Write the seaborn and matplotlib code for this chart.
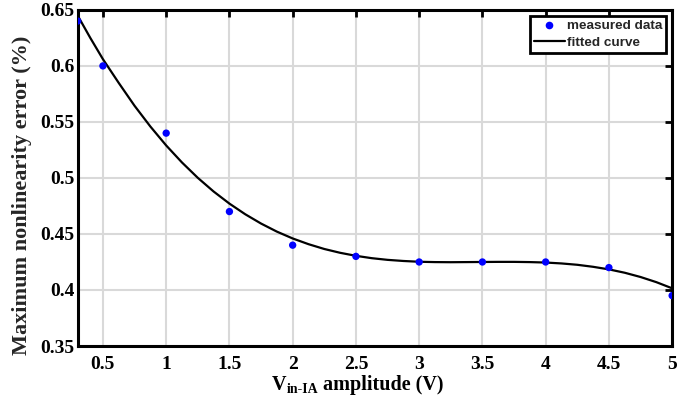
import numpy as np
import pandas as pd
import matplotlib
matplotlib.use("Agg")
import matplotlib.pyplot as plt
import seaborn as sns
from matplotlib.lines import Line2D

# measured data
meas_x = [0.3, 0.5, 1.0, 1.5, 2.0, 2.5, 3.0, 3.5, 4.0, 4.5, 5.0]
meas_y = [0.640, 0.600, 0.540, 0.470, 0.440, 0.430, 0.425, 0.425, 0.425, 0.420, 0.395]

# fitted curve
fit_x = [0.3, 0.4, 0.5, 0.625, 0.75, 0.875, 1.0, 1.125, 1.25, 1.375, 1.5, 1.625,
         1.75, 1.875, 2.0, 2.125, 2.25, 2.375, 2.5, 2.625, 2.75, 2.875,
         3.0, 3.125, 3.25, 3.375, 3.5, 3.625, 3.75, 3.875, 4.0, 4.125,
         4.25, 4.375, 4.5, 4.625, 4.75, 4.875, 5.0]
fit_y = [0.645, 0.625, 0.606, 0.5848, 0.5644, 0.5459, 0.529, 0.5138, 0.5001, 0.4879, 0.4771, 0.4676,
         0.4593, 0.4521, 0.446, 0.4409, 0.4366, 0.4332, 0.4305, 0.4284, 0.4269, 0.4259,
         0.4252, 0.4249, 0.4248, 0.4249, 0.425, 0.4251, 0.4251, 0.4249, 0.4245, 0.4237,
         0.4225, 0.4207, 0.4184, 0.4154, 0.4116, 0.407, 0.4015]

x_ticks = [0.5, 1, 1.5, 2, 2.5, 3, 3.5, 4, 4.5, 5]
x_ticklabels = ["0.5", "1", "1.5", "2", "2.5", "3", "3.5", "4", "4.5", "5"]
y_ticks = [0.35, 0.4, 0.45, 0.5, 0.55, 0.6, 0.65]
y_ticklabels = ["0.35", "0.4", "0.45", "0.5", "0.55", "0.6", "0.65"]
xlabel_parts = ["V", "in-IA", " amplitude (V)"]
ylabel_text = "Maximum nonlinearity error (%)"

sns.set_theme(style="white")
plt.rcParams["font.family"] = ["Liberation Serif", "DejaVu Serif"]
plt.rcParams["font.weight"] = "bold"

W, H = 681, 395
fig = plt.figure(figsize=(W / 100, H / 100), dpi=100)
ax = fig.add_axes([0.114, 0.124, 0.873, 0.851])

df_meas = pd.DataFrame({"x": meas_x, "y": meas_y})
df_fit = pd.DataFrame({"x": fit_x, "y": fit_y})

sns.lineplot(data=df_fit, x="x", y="y", ax=ax, color="black", linewidth=1.6,
             estimator=None, sort=True, zorder=3)
sns.scatterplot(data=df_meas, x="x", y="y", ax=ax, color="#0000ff", s=28,
                edgecolor="none", zorder=4)

ax.set_xlim(0.3, 5)
ax.set_ylim(0.35, 0.65)
ax.set_xticks(x_ticks)
ax.set_xticklabels(x_ticklabels)
ax.set_yticks(y_ticks)
ax.set_yticklabels(y_ticklabels)
ax.grid(True, color="#d9d9d9", linewidth=1.5)
ax.set_axisbelow(True)
for s in ax.spines.values():
    s.set_visible(True)
    s.set_color("black")
    s.set_linewidth(2.2)
ax.tick_params(axis="both", which="both", direction="in", length=5, width=2,
               top=True, right=True, labelsize=14, colors="black")
ax.tick_params(axis="x", pad=7)
ax.tick_params(axis="y", pad=2.5)
for lab in ax.get_xticklabels() + ax.get_yticklabels():
    lab.set_fontweight("bold")

ax.set_xlabel("")
ax.set_ylabel(ylabel_text, fontsize=16, fontweight="bold")
ax.yaxis.set_label_coords(-0.077, 0.449)

# x label built from pieces: main text, small subscript, main text
renderer = fig.canvas.get_renderer()
sizes = [14.5, 10, 14.5]
baselines = [390, 393, 390]
texts = []
for part, fs, bl in zip(xlabel_parts, sizes, baselines):
    t = fig.text(0, 1 - bl / H, part, fontsize=fs, fontweight="bold",
                 ha="left", va="baseline", color="black")
    texts.append(t)
widths = [t.get_window_extent(renderer).width for t in texts]
total = sum(widths)
x_px = 358 - total / 2
for t, w in zip(texts, widths):
    t.set_x(x_px / W)
    x_px += w

handles = [
    Line2D([], [], marker="o", linestyle="none", color="#0000ff", markersize=5.5, markeredgewidth=0),
    Line2D([], [], color="black", linewidth=1.6),
]
leg = ax.legend(handles, ["measured data", "fitted curve"], loc="upper right",
                prop={"family": "Liberation Sans", "weight": "bold", "size": 9.7},
                frameon=True, fancybox=False, framealpha=1, edgecolor="black",
                borderaxespad=0.45, handlelength=2.3, handletextpad=0.15,
                borderpad=0.3, labelspacing=0.3)
leg.get_frame().set_linewidth(2)

fig.savefig("out.png", dpi=100)
